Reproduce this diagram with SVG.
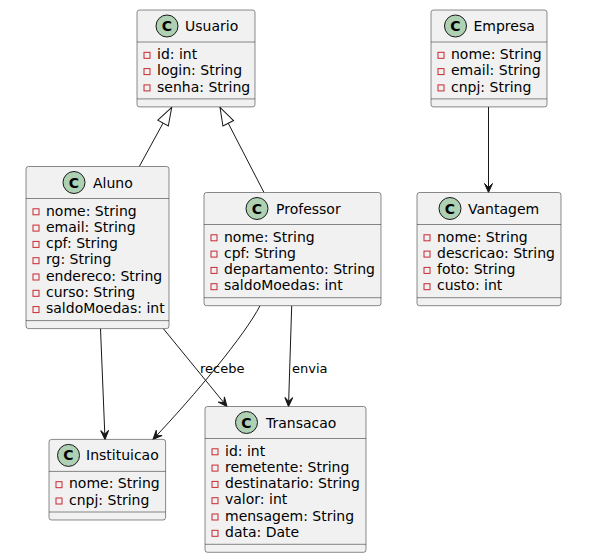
<svg xmlns="http://www.w3.org/2000/svg" width="614" height="554" viewBox="0 0 614 554">
<style>
.box{fill:#F1F1F1;stroke:#181818;stroke-width:0.5}
.sep{stroke:#181818;stroke-width:0.5}
.circ{fill:#ADD1B2;stroke:#181818;stroke-width:1}
.cg{font-family:"DejaVu Sans",sans-serif;font-size:14px;font-weight:bold;fill:#000000;text-anchor:middle}
.name{font-family:"DejaVu Sans",sans-serif;font-size:14px;fill:#000000}
.attr{font-family:"DejaVu Sans",sans-serif;font-size:14px;fill:#000000}
.ico{fill:none;stroke:#C82930;stroke-width:1}
.edge{fill:none;stroke:#181818;stroke-width:1}
.lbl{font-family:"DejaVu Sans",sans-serif;font-size:13px;fill:#000000}
</style>
<defs>
<marker id="arr" viewBox="-10 -5 11 10" refX="0" refY="0" markerWidth="11" markerHeight="10" markerUnits="userSpaceOnUse" orient="auto" overflow="visible">
<path d="M-9,-4 L0,0 L-9,4 L-5,0 Z" fill="#181818" stroke="#181818" stroke-width="1"/>
</marker>
<marker id="tri" viewBox="-19 -7 20 14" refX="0" refY="0" markerWidth="20" markerHeight="14" markerUnits="userSpaceOnUse" orient="auto" overflow="visible">
<path d="M0,0 L-18,-6 L-18,6 Z" fill="#FFFFFF" stroke="#181818" stroke-width="1"/>
</marker>
</defs>
<rect width="614" height="554" fill="#FFFFFF"/>

<g id="connectors">
<path class="edge" d="M139.3,166.5 L171.7,107.3" marker-end="url(#tri)"/>
<path class="edge" d="M264,192.5 L220,107.3" marker-end="url(#tri)"/>
<path class="edge" d="M488.5,107 L488.5,192.5" marker-end="url(#arr)"/>
<path class="edge" d="M100.5,328.6 L105,439.4" marker-end="url(#arr)"/>
<path class="edge" d="M163.3,328.6 L227,406.5" marker-end="url(#arr)"/>
<text class="lbl" x="200" y="372.5">recebe</text>
<path class="edge" d="M260,305.7 C245,335 195,395 153,439.4" marker-end="url(#arr)"/>
<path class="edge" d="M291.7,305.7 L288.5,406.5" marker-end="url(#arr)"/>
<text class="lbl" x="292" y="372.5">envia</text>
</g>

<g id="Usuario">
<rect class="box" x="137" y="10" width="118" height="96.9" rx="2.5"/>
<circle class="circ" cx="167" cy="26" r="11"/>
<text class="cg" x="167" y="31">C</text>
<text class="name" x="185" y="31">Usuario</text>
<line class="sep" x1="137" y1="42" x2="255" y2="42"/>
<rect class="ico" x="144" y="52.3" width="6" height="6"/><text class="attr" x="157" y="59">id: int</text>
<rect class="ico" x="144" y="68.6" width="6" height="6"/><text class="attr" x="157" y="75.3">login: String</text>
<rect class="ico" x="144" y="84.9" width="6" height="6"/><text class="attr" x="157" y="91.6">senha: String</text>
<line class="sep" x1="137" y1="98.9" x2="255" y2="98.9"/>
</g>

<g id="Empresa">
<rect class="box" x="431" y="10" width="116" height="96.9" rx="2.5"/>
<circle class="circ" cx="455.5" cy="26" r="11"/>
<text class="cg" x="455.5" y="31">C</text>
<text class="name" x="473.5" y="31">Empresa</text>
<line class="sep" x1="431" y1="42" x2="547" y2="42"/>
<rect class="ico" x="438" y="52.3" width="6" height="6"/><text class="attr" x="451" y="59">nome: String</text>
<rect class="ico" x="438" y="68.6" width="6" height="6"/><text class="attr" x="451" y="75.3">email: String</text>
<rect class="ico" x="438" y="84.9" width="6" height="6"/><text class="attr" x="451" y="91.6">cnpj: String</text>
<line class="sep" x1="431" y1="98.9" x2="547" y2="98.9"/>
</g>

<g id="Aluno">
<rect class="box" x="26" y="166.5" width="143" height="162.1" rx="2.5"/>
<circle class="circ" cx="74" cy="182.5" r="11"/>
<text class="cg" x="74" y="187.5">C</text>
<text class="name" x="93" y="187.5">Aluno</text>
<line class="sep" x1="26" y1="198.5" x2="169" y2="198.5"/>
<rect class="ico" x="33" y="208.8" width="6" height="6"/><text class="attr" x="46" y="215.5">nome: String</text>
<rect class="ico" x="33" y="225.1" width="6" height="6"/><text class="attr" x="46" y="231.8">email: String</text>
<rect class="ico" x="33" y="241.4" width="6" height="6"/><text class="attr" x="46" y="248.1">cpf: String</text>
<rect class="ico" x="33" y="257.7" width="6" height="6"/><text class="attr" x="46" y="264.4">rg: String</text>
<rect class="ico" x="33" y="274" width="6" height="6"/><text class="attr" x="46" y="280.7">endereco: String</text>
<rect class="ico" x="33" y="290.3" width="6" height="6"/><text class="attr" x="46" y="297">curso: String</text>
<rect class="ico" x="33" y="306.6" width="6" height="6"/><text class="attr" x="46" y="313.3">saldoMoedas: int</text>
<line class="sep" x1="26" y1="320.6" x2="169" y2="320.6"/>
</g>

<g id="Professor">
<rect class="box" x="204" y="192.5" width="177" height="113.2" rx="2.5"/>
<circle class="circ" cx="257" cy="208.5" r="11"/>
<text class="cg" x="257" y="213.5">C</text>
<text class="name" x="276" y="213.5">Professor</text>
<line class="sep" x1="204" y1="224.5" x2="381" y2="224.5"/>
<rect class="ico" x="211" y="234.8" width="6" height="6"/><text class="attr" x="224" y="241.5">nome: String</text>
<rect class="ico" x="211" y="251.1" width="6" height="6"/><text class="attr" x="224" y="257.8">cpf: String</text>
<rect class="ico" x="211" y="267.4" width="6" height="6"/><text class="attr" x="224" y="274.1">departamento: String</text>
<rect class="ico" x="211" y="283.7" width="6" height="6"/><text class="attr" x="224" y="290.4">saldoMoedas: int</text>
<line class="sep" x1="204" y1="297.7" x2="381" y2="297.7"/>
</g>

<g id="Vantagem">
<rect class="box" x="417" y="192.5" width="144" height="113.2" rx="2.5"/>
<circle class="circ" cx="450" cy="208.5" r="11"/>
<text class="cg" x="450" y="213.5">C</text>
<text class="name" x="468" y="213.5">Vantagem</text>
<line class="sep" x1="417" y1="224.5" x2="561" y2="224.5"/>
<rect class="ico" x="424" y="234.8" width="6" height="6"/><text class="attr" x="437" y="241.5">nome: String</text>
<rect class="ico" x="424" y="251.1" width="6" height="6"/><text class="attr" x="437" y="257.8">descricao: String</text>
<rect class="ico" x="424" y="267.4" width="6" height="6"/><text class="attr" x="437" y="274.1">foto: String</text>
<rect class="ico" x="424" y="283.7" width="6" height="6"/><text class="attr" x="437" y="290.4">custo: int</text>
<line class="sep" x1="417" y1="297.7" x2="561" y2="297.7"/>
</g>

<g id="Instituicao">
<rect class="box" x="49" y="439.4" width="116.6" height="80.6" rx="2.5"/>
<circle class="circ" cx="68.5" cy="455.4" r="11"/>
<text class="cg" x="68.5" y="460.4">C</text>
<text class="name" x="86" y="460.4">Instituicao</text>
<line class="sep" x1="49" y1="471.4" x2="165.6" y2="471.4"/>
<rect class="ico" x="56" y="481.7" width="6" height="6"/><text class="attr" x="69" y="488.4">nome: String</text>
<rect class="ico" x="56" y="498" width="6" height="6"/><text class="attr" x="69" y="504.7">cnpj: String</text>
<line class="sep" x1="49" y1="512" x2="165.6" y2="512"/>
</g>

<g id="Transacao">
<rect class="box" x="205" y="406.5" width="161" height="145.8" rx="2.5"/>
<circle class="circ" cx="246.5" cy="422.5" r="11"/>
<text class="cg" x="246.5" y="427.5">C</text>
<text class="name" x="266" y="427.5">Transacao</text>
<line class="sep" x1="205" y1="438.5" x2="366" y2="438.5"/>
<rect class="ico" x="212" y="448.8" width="6" height="6"/><text class="attr" x="225" y="455.5">id: int</text>
<rect class="ico" x="212" y="465.1" width="6" height="6"/><text class="attr" x="225" y="471.8">remetente: String</text>
<rect class="ico" x="212" y="481.4" width="6" height="6"/><text class="attr" x="225" y="488.1">destinatario: String</text>
<rect class="ico" x="212" y="497.7" width="6" height="6"/><text class="attr" x="225" y="504.4">valor: int</text>
<rect class="ico" x="212" y="514" width="6" height="6"/><text class="attr" x="225" y="520.7">mensagem: String</text>
<rect class="ico" x="212" y="530.3" width="6" height="6"/><text class="attr" x="225" y="537">data: Date</text>
<line class="sep" x1="205" y1="544.3" x2="366" y2="544.3"/>
</g>
</svg>
